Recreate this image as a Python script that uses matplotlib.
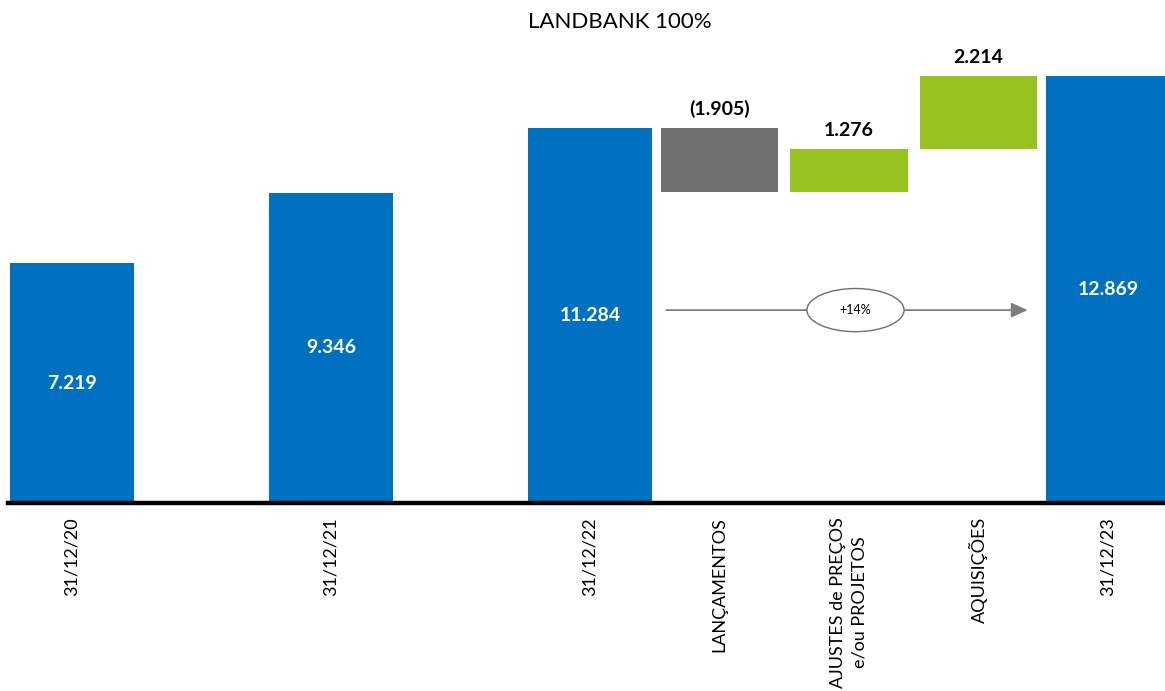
"""Waterfall chart: LANDBANK 100%."""

import matplotlib

matplotlib.use("Agg")
import matplotlib.pyplot as plt
from matplotlib.patches import Ellipse

plt.rcParams["font.family"] = ["Lato", "DejaVu Sans"]

# data
categories = [
    "31/12/20",
    "31/12/21",
    "31/12/22",
    "LANÇAMENTOS",
    "AJUSTES de PREÇOS\ne/ou PROJETOS",
    "AQUISIÇÕES",
    "31/12/23",
]
positions = [0, 2, 4, 5, 6, 7, 8]
totals = {0: 7219, 1: 9346, 2: 11284, 6: 12869}
changes = {3: -1905, 4: 1276, 5: 2214}

BLUE = "#0070C0"
GRAY = "#6F6F6F"
GREEN = "#97C21F"


def fmt(v):
    s = f"{abs(v):,}".replace(",", ".")
    return f"({s})" if v < 0 else s


fig = plt.figure(figsize=(11.65, 6.91), dpi=100)
ax = fig.add_axes([8 / 1165, 1 - 503 / 691, 1 - 8 / 1165, 503 / 691])

running = 0
for i, x in enumerate(positions):
    if i in totals:
        running = totals[i]
        ax.bar(x, running, width=0.96, color=BLUE)
        ax.text(x, running / 2, fmt(running), ha="center", va="center",
                color="white", fontsize=14, fontweight="bold")
    else:
        d = changes[i]
        lo, hi = sorted((running, running + d))
        ax.bar(x, hi - lo, bottom=lo, width=0.91,
               color=GRAY if d < 0 else GREEN)
        ax.text(x, hi + 300, fmt(d), ha="center", va="bottom",
                color="black", fontsize=14, fontweight="bold")
        running += d

# growth arrow between 31/12/22 and 31/12/23
start, end = totals[2], totals[6]
growth = round((end / start - 1) * 100)
arrow_y = 5810
ax.annotate("", xy=(7.38, arrow_y), xytext=(4.59, arrow_y),
            arrowprops=dict(arrowstyle="-|>,head_length=1.0,head_width=0.45",
                            color="#7F7F7F", lw=1.3, shrinkA=0, shrinkB=0))
ax.add_patch(Ellipse((6.05, arrow_y), 0.75, 1300, facecolor="white",
                     edgecolor="#6F6F6F", lw=1, zorder=3))
ax.text(6.05, arrow_y, f"+{growth}%", ha="center", va="center",
        fontsize=9, zorder=4)

ax.set_xlim(-0.494, 8.44)
ax.set_ylim(0, 15150)
ax.set_xticks(positions)
ax.set_xticklabels(categories, rotation=90, fontsize=13,
                   va="top", ha="center", multialignment="center",
                   linespacing=1.4)
ax.tick_params(axis="x", length=0, pad=10)
ax.set_yticks([])
for side in ("top", "right", "left"):
    ax.spines[side].set_visible(False)
ax.spines["bottom"].set_linewidth(3.2)
ax.spines["bottom"].set_color("black")

fig.text(620 / 1165, 1 - 22 / 691, "LANDBANK 100%", ha="center",
         va="center", fontsize=16)

fig.savefig("out.png", dpi=100)
